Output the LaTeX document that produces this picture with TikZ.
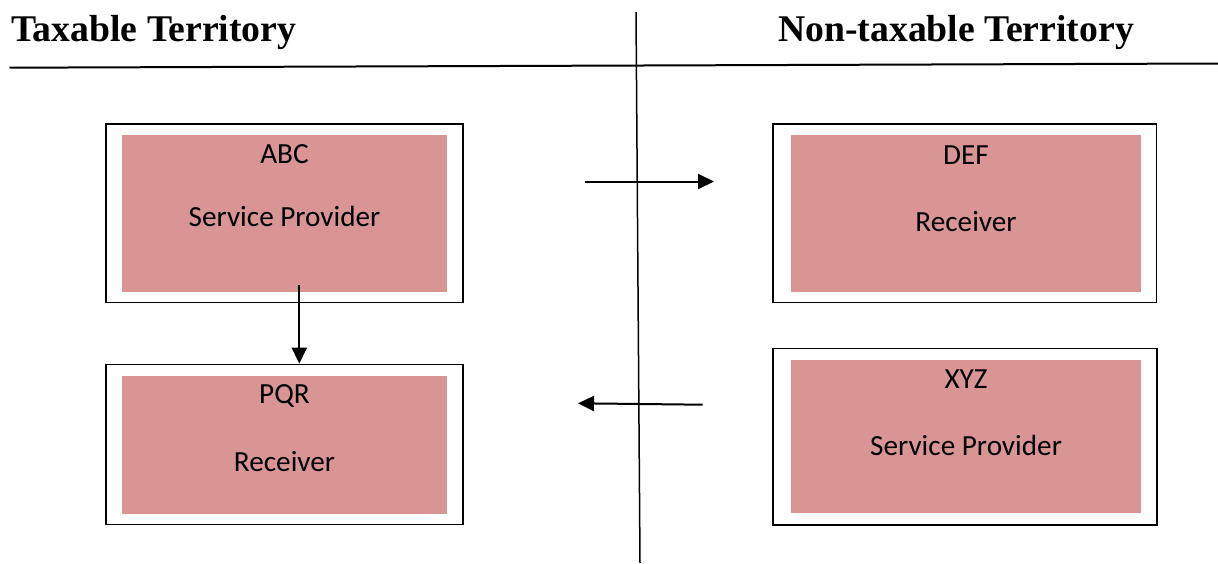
\documentclass[tikz,border=0pt]{standalone}
\usepackage{fontspec}
\usepackage{tikz}
\usetikzlibrary{arrows.meta}
\setmainfont{Carlito}
\newfontfamily\headfont{Liberation Serif}
\definecolor{boxpink}{RGB}{217,149,148}

\begin{document}
\begin{tikzpicture}[x=1pt,y=-1pt,
  outerbox/.style={rectangle,draw,line width=1.7pt,fill=white,inner sep=0pt},
  innerbox/.style={rectangle,fill=boxpink,inner sep=0pt},
  boxtext/.style={anchor=base,inner sep=0pt,font=\fontsize{29.2}{35}\selectfont},
  heading/.style={anchor=base west,inner sep=0pt,font=\headfont\bfseries\fontsize{37.7}{44}\selectfont},
  flow/.style={line width=2pt,-{Triangle[length=16pt,width=15pt]}}]
\useasboundingbox (0,0) rectangle (1218,563);
% headings and the border between the territories
\node [heading] (tax) at (11,41.7) {Taxable Territory};
\node [heading] (nontax) at (778,41.7) {Non-taxable Territory};
\coordinate (hl) at (9.5,67.7);
\coordinate (hr) at (1218,63.5);
\coordinate (vt) at (636,12);
\coordinate (vb) at (640,563);
\draw [line width=2pt] (hl) -- (hr);
\draw [line width=1.5pt] (vt) -- (vb);
% taxable side
\node [outerbox,minimum width=357pt,minimum height=178.5pt] (abc) at (284.5,213.2) {};
\node [innerbox,minimum width=325pt,minimum height=157.5pt] (abcin) at (284.5,213.7) {};
\node [boxtext] (abcname) at (284.5,163.5) {ABC};
\node [boxtext] (abcrole) at (284.5,226) {Service Provider};
\node [outerbox,minimum width=357pt,minimum height=160pt] (pqr) at (284.5,444.5) {};
\node [innerbox,minimum width=325pt,minimum height=138pt] (pqrin) at (284.5,445) {};
\node [boxtext] (pqrname) at (284.5,403.4) {PQR};
\node [boxtext] (pqrrole) at (284.5,471.4) {Receiver};
% non-taxable side
\node [outerbox,minimum width=383.5pt,minimum height=178.5pt] (def) at (964.8,213.2) {};
\node [innerbox,minimum width=350pt,minimum height=157.5pt] (defin) at (966,213.7) {};
\node [boxtext] (defname) at (966,164) {DEF};
\node [boxtext] (defrole) at (966,231.4) {Receiver};
\node [outerbox,minimum width=383.4pt,minimum height=176.7pt] (xyz) at (965,436.7) {};
\node [innerbox,minimum width=350pt,minimum height=153.3pt] (xyzin) at (966,436.7) {};
\node [boxtext] (xyzname) at (966,388.3) {XYZ};
\node [boxtext] (xyzrole) at (966,455.7) {Service Provider};
% arrows
\coordinate (down) at (299.3,285);
\draw [flow] (down) -- (down |- pqr.north);
\coordinate (outa) at (585,181.5);
\coordinate (outb) at (714,181.5);
\draw [flow] (outa) -- (outb);
\coordinate (ina) at (702.7,404.7);
\coordinate (inb) at (578,403.3);
\draw [flow] (ina) -- (inb);
\end{tikzpicture}
\end{document}
